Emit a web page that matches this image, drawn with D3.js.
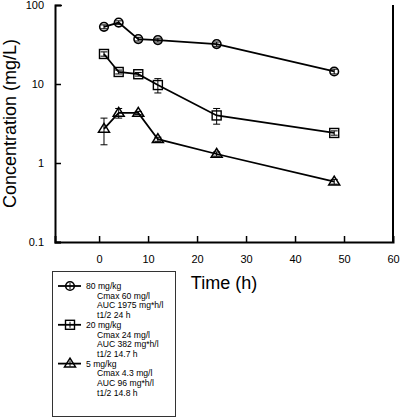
<!DOCTYPE html>
<html><head><meta charset="utf-8">
<script src="https://cdn.jsdelivr.net/npm/d3@7"></script>
<style>body{margin:0;background:#fff}svg{display:block;font-family:"Liberation Sans",Arial,sans-serif}</style>
</head><body><svg id="c" width="400" height="417"></svg>
<script>
const times = [1, 4, 8, 12, 24, 48];
const conc80 = [53, 60, 37, 36, 32, 14.4];
const err80 = [3, 3, 2, 2, 2, 1];
const conc20 = [24, 14.2, 13.3, 9.7, 4.0, 2.4];
const err20 = [1.5, 0.8, 0.7, 2.0, 0.9, 0.15];
const conc5 = [2.7, 4.3, 4.3, 2.0, 1.3, 0.58];
const err5 = [1.0, 0.6, 0.2, 0.12, 0.08, 0.04];
const xTicks = [0, 10, 20, 30, 40, 50, 60];
const yTicks = [0.1, 1, 10, 100];
const legendNames = ["80 mg/kg", "20 mg/kg", "5 mg/kg"];
const legendDetails = [
  ["Cmax 60 mg/l", "AUC 1975 mg*h/l", "t1/2 24 h"],
  ["Cmax 24 mg/l", "AUC 382 mg*h/l", "t1/2 14.7 h"],
  ["Cmax 4.3 mg/l", "AUC 96 mg*h/l", "t1/2 14.8 h"]
];

const svg = d3.select("#c");
const x = d3.scaleLinear().domain([-9, 60]).range([55, 393]);
const y = d3.scaleLog().domain([0.1, 100]).range([242, 5]);

const series = [
  {vals: conc80, err: err80, shape: "circle"},
  {vals: conc20, err: err20, shape: "square"},
  {vals: conc5, err: err5, shape: "triangle"}
];

// axes
const xAxis = d3.axisBottom(x).tickValues(xTicks).tickSize(-6).tickPadding(13).tickFormat(d3.format("d"));
const gx = svg.append("g").attr("transform", "translate(0,242)").call(xAxis);
const yAxis = d3.axisLeft(y).tickValues(yTicks).tickSize(-6).tickPadding(11).tickFormat(d => String(d));
const gy = svg.append("g").attr("transform", "translate(55,0)").call(yAxis);
[gx, gy].forEach(g => {
  g.select(".domain").attr("stroke", "#000").attr("stroke-width", 2);
  g.selectAll(".tick line").attr("stroke", "#000").attr("stroke-width", 1.5);
  g.selectAll(".tick text").attr("font-size", 11).attr("fill", "#000").attr("font-family", "Liberation Sans, Arial, sans-serif");
});
gx.select(".tick:last-of-type line").remove();
gy.select(".tick:last-of-type line").attr("x2", 7);
// right border
svg.append("line").attr("x1", x(60)).attr("x2", x(60)).attr("y1", y(100)).attr("y2", 242)
  .attr("stroke", "#000").attr("stroke-width", 2);

// titles
svg.append("text").attr("transform", "translate(16," + ((y(100) + y(0.1)) / 2) + ") rotate(-90)")
  .attr("text-anchor", "middle").attr("font-size", 18).text("Concentration (mg/L)");
svg.append("text").attr("x", 224).attr("y", 289).attr("text-anchor", "middle").attr("font-size", 18).text("Time (h)");

function drawMarker(g, shape, cx, cy) {
  if (shape === "circle") {
    g.append("circle").attr("cx", cx).attr("cy", cy).attr("r", 4.3)
      .attr("fill", "none").attr("stroke", "#000").attr("stroke-width", 1.6);
  } else if (shape === "square") {
    g.append("rect").attr("x", cx - 4.5).attr("y", cy - 4.5).attr("width", 9).attr("height", 9)
      .attr("fill", "none").attr("stroke", "#000").attr("stroke-width", 1.4);
  } else {
    const s = 5.5;
    g.append("path").attr("d", `M${cx},${cy - s}L${cx + s},${cy + s * 0.6}L${cx - s},${cy + s * 0.6}Z`)
      .attr("fill", "none").attr("stroke", "#000").attr("stroke-width", 1.5);
  }
}

const line = d3.line().x(d => x(d[0])).y(d => y(d[1]));
series.forEach(s => {
  const pts = times.map((t, i) => [t, s.vals[i], s.err[i]]);
  const g = svg.append("g");
  g.append("path").attr("d", line(pts)).attr("fill", "none").attr("stroke", "#000").attr("stroke-width", 1.8);
  pts.forEach(p => {
    const px = x(p[0]);
    const hi = y(p[1] + p[2]), lo = y(p[1] - p[2]);
    g.append("line").attr("x1", px).attr("x2", px).attr("y1", hi).attr("y2", lo).attr("stroke", "#000").attr("stroke-width", 1);
    [hi, lo].forEach(yy => g.append("line").attr("x1", px - 3.5).attr("x2", px + 3.5).attr("y1", yy).attr("y2", yy).attr("stroke", "#000").attr("stroke-width", 1));
    drawMarker(g, s.shape, px, y(p[1]));
  });
});

// legend
const lg = svg.append("g");
lg.append("rect").attr("x", 52.5).attr("y", 271.5).attr("width", 123).attr("height", 145)
  .attr("fill", "#fff").attr("stroke", "#333").attr("stroke-width", 1);
const step = 9.7;
series.forEach((s, i) => {
  const base = 289 + i * 4 * step;
  const cy = base - 3;
  lg.append("line").attr("x1", 58).attr("x2", 81).attr("y1", cy).attr("y2", cy).attr("stroke", "#000").attr("stroke-width", 1.8);
  lg.append("line").attr("x1", 70).attr("x2", 70).attr("y1", cy - 3).attr("y2", cy + 3).attr("stroke", "#000").attr("stroke-width", 1);
  drawMarker(lg, s.shape, 70, cy);
  lg.append("text").attr("x", 86).attr("y", base).attr("font-size", 8.6).text(legendNames[i]);
  legendDetails[i].forEach((t, j) => {
    lg.append("text").attr("x", 97).attr("y", base + (j + 1) * step).attr("font-size", 8.6).text(t);
  });
});
</script></body></html>
